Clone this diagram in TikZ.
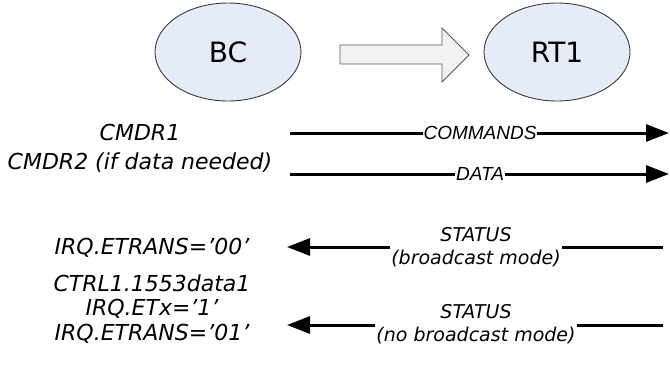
\documentclass[tikz,border=0pt]{standalone}
\usepackage{fontspec}
\setmainfont{DejaVu Sans}
\newfontfamily\arialfont{Liberation Sans}
\usetikzlibrary{shapes.geometric,arrows.meta}
\definecolor{ellfill}{HTML}{E6ECF7}
\definecolor{ellline}{HTML}{3A3A3A}
\definecolor{blkfill}{HTML}{F2F2F2}
\definecolor{blkline}{HTML}{5A5A5A}
\tikzset{
  ell/.style={ellipse, draw=ellline, line width=0.9pt, fill=ellfill, minimum width=146pt, minimum height=98pt, inner sep=0pt, font=\fontsize{28}{32}\selectfont},
  msg/.style={line width=3pt, -{Triangle[length=23pt,width=17pt]}},
  lbl/.style={fill=white, inner xsep=1pt, inner ysep=0pt, font=\arialfont\itshape\fontsize{19}{22}\selectfont},
  stlbl/.style={fill=white, inner xsep=1.5pt, inner ysep=0pt, align=center, font=\itshape\fontsize{19}{22.5}\selectfont},
  side/.style={align=center, inner sep=0pt, font=\itshape\fontsize{22}{29}\selectfont},
}
\begin{document}
\begin{tikzpicture}[x=1pt,y=-1pt]
\useasboundingbox (0,0) rectangle (670,373);
% participants
\node[ell] (bc) at (228,52) {BC};
\node[ell] (rt) at (557,52) {RT1};
% block arrow
\draw[draw=blkline, fill=blkfill, line width=0.8pt]
  (340,45) -- (442,45) -- (442,28) -- (469,55) -- (442,82) -- (442,64) -- (340,64) -- cycle;
% message end points
\coordinate (c1s) at (290,133); \coordinate (c1e) at (669,133);
\coordinate (d1s) at (290,174); \coordinate (d1e) at (669,174);
\coordinate (s1s) at (663,247); \coordinate (s1e) at (287,247);
\coordinate (s2s) at (663,325); \coordinate (s2e) at (287,325);
% messages
\draw[msg] (c1s) -- (c1e);
\node[lbl] (lc) at (480,133) {COMMANDS};
\draw[msg] (d1s) -- (d1e);
\node[lbl] (ld) at (480,174) {DATA};
\draw[msg] (s1s) -- (s1e);
\node[stlbl] (ls1) at (476,247) {STATUS\\(broadcast mode)};
\draw[msg] (s2s) -- (s2e);
\node[stlbl] (ls2) at (476,324) {STATUS\\(no broadcast mode)};
% side texts
\node[side] (t1) at (140,148) {CMDR1\\CMDR2 (if data needed)};
\node[side] (t2) at (152,248) {IRQ.ETRANS=’00’};
\node[side, font=\itshape\fontsize{22}{24.5}\selectfont] (t3) at (152,309) {CTRL1.1553data1\\IRQ.ETx=’1’\\IRQ.ETRANS=’01’};
\end{tikzpicture}
\end{document}
